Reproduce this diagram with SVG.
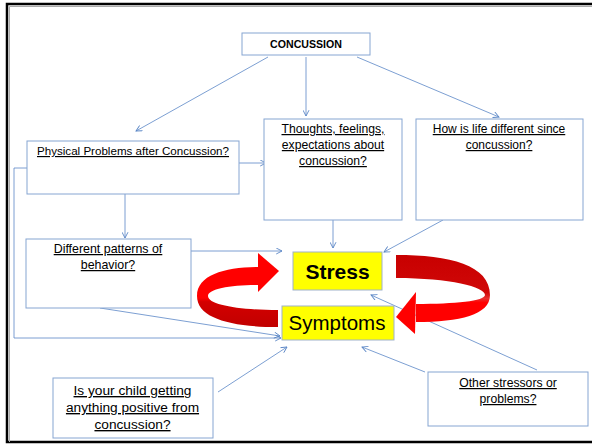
<svg xmlns="http://www.w3.org/2000/svg" width="592" height="445" viewBox="0 0 592 445">
<defs>
<style>
.box{fill:#fff;stroke:#86A5D2;stroke-width:1}
.ybox{fill:#FFFF00;stroke:#9FB2C9;stroke-width:1}
.t{font-family:"Liberation Sans",Arial,sans-serif;font-size:12.2px;fill:#000;text-anchor:middle;text-decoration:underline}
.c{fill:none;stroke:#5B87C6;stroke-width:0.8}
</style>
<marker id="ah" viewBox="0 0 7 7" refX="6.3" refY="3.5" markerWidth="7" markerHeight="7" markerUnits="userSpaceOnUse" orient="auto">
<path d="M0.5,0.5 L6.3,3.5 L0.5,6.5" fill="none" stroke="#5B87C6" stroke-width="0.9"/>
</marker>
<linearGradient id="gl" gradientUnits="userSpaceOnUse" x1="0" y1="253" x2="0" y2="328">
<stop offset="0" stop-color="#FF0000"/>
<stop offset="0.6" stop-color="#FF0000"/>
<stop offset="0.65" stop-color="#D40000"/>
<stop offset="1" stop-color="#C00000"/>
</linearGradient>
<linearGradient id="gr" gradientUnits="userSpaceOnUse" x1="0" y1="255" x2="0" y2="323">
<stop offset="0" stop-color="#C80000"/>
<stop offset="0.55" stop-color="#D00808"/>
<stop offset="0.64" stop-color="#E83030"/>
<stop offset="0.7" stop-color="#FF0000"/>
<stop offset="1" stop-color="#FF0000"/>
</linearGradient>
</defs>
<rect width="592" height="445" fill="#fff"/>
<rect x="7" y="4" width="600" height="438" fill="none" stroke="#000" stroke-width="2.5"/>
<path d="M9.5,442 V6.5 H592" fill="none" stroke="#aaa" stroke-width="1"/>

<g id="connectors">
<line class="c" x1="268" y1="57" x2="136" y2="131" marker-end="url(#ah)"/>
<line class="c" x1="306" y1="57" x2="306" y2="116" marker-end="url(#ah)"/>
<line class="c" x1="357" y1="57" x2="499" y2="117" marker-end="url(#ah)"/>
<line class="c" x1="237" y1="163" x2="266" y2="163" marker-end="url(#ah)"/>
<line class="c" x1="125" y1="194" x2="125" y2="238" marker-end="url(#ah)"/>
<line class="c" x1="191" y1="251" x2="282" y2="251" marker-end="url(#ah)"/>
<polyline class="c" points="27,168 14,168 14,338 281,338" marker-end="url(#ah)"/>
<line class="c" x1="100" y1="308" x2="280" y2="336" marker-end="url(#ah)"/>
<line class="c" x1="333" y1="220" x2="333" y2="248" marker-end="url(#ah)"/>
<line class="c" x1="443" y1="220" x2="384" y2="252" marker-end="url(#ah)"/>
<line class="c" x1="537" y1="370" x2="371" y2="295" marker-end="url(#ah)"/>
<line class="c" x1="218" y1="392" x2="287" y2="347" marker-end="url(#ah)"/>
<line class="c" x1="425" y1="372" x2="362" y2="347" marker-end="url(#ah)"/>
</g>

<g id="cycle-arrows">
<path d="M258,267 C225,267 197,275 197,296 C197,318 230,327 278,327 L278,310 C240,310 208,305 208,296 C208,289 230,285 258,285 Z" fill="url(#gl)"/>
<polygon points="258,253 279,271 258,292" fill="#FF0000"/>
<path d="M396,255 C450,255 490,265 490,295 C490,315 460,322 416,322 L416,304 C455,304 485,301 485,295 C485,287 450,278 396,278 Z" fill="url(#gr)"/>
<polygon points="416,292 396,317 415,334" fill="#FF0000"/>
</g>

<g id="concussion">
<rect class="box" x="242" y="33" width="128" height="22"/>
<text x="306" y="48" style="font-family:'Liberation Sans',Arial,sans-serif;font-size:10.6px;font-weight:bold;text-anchor:middle">CONCUSSION</text>
</g>

<g id="physical">
<rect class="box" x="27" y="141" width="212" height="53"/>
<text class="t" x="133" y="155" style="font-size:11.6px">Physical Problems after Concussion?</text>
</g>

<g id="thoughts">
<rect class="box" x="264" y="119" width="138" height="101"/>
<text class="t" x="333" y="133">Thoughts, feelings,</text>
<text class="t" x="333" y="149">expectations about</text>
<text class="t" x="333" y="165">concussion?</text>
</g>

<g id="life">
<rect class="box" x="416" y="119" width="167" height="101"/>
<text class="t" x="499" y="133" style="font-size:12px">How is life different since</text>
<text class="t" x="499" y="149" style="font-size:12px">concussion?</text>
</g>

<g id="behavior">
<rect class="box" x="26" y="239" width="165" height="69"/>
<text class="t" x="108" y="253" style="font-size:12.4px">Different patterns of</text>
<text class="t" x="108" y="269" style="font-size:12.4px">behavior?</text>
</g>

<g id="stress">
<rect class="ybox" x="293" y="252" width="89" height="38"/>
<text x="337.5" y="278.5" style="font-family:'Liberation Sans',Arial,sans-serif;font-size:21px;font-weight:bold;text-anchor:middle">Stress</text>
</g>

<g id="symptoms">
<rect class="ybox" x="282" y="306" width="112" height="34"/>
<text x="337" y="330" style="font-family:'Liberation Sans',Arial,sans-serif;font-size:20.5px;text-anchor:middle">Symptoms</text>
</g>

<g id="positive">
<rect class="box" x="53" y="378" width="160" height="60"/>
<text class="t" x="132.5" y="395" style="font-size:13.7px">Is your child getting</text>
<text class="t" x="132.5" y="412" style="font-size:13.7px">anything positive from</text>
<text class="t" x="132.5" y="429" style="font-size:13.7px">concussion?</text>
</g>

<g id="other">
<rect class="box" x="428" y="372" width="160" height="54"/>
<text class="t" x="508" y="387">Other stressors or</text>
<text class="t" x="508" y="403">problems?</text>
</g>
</svg>
